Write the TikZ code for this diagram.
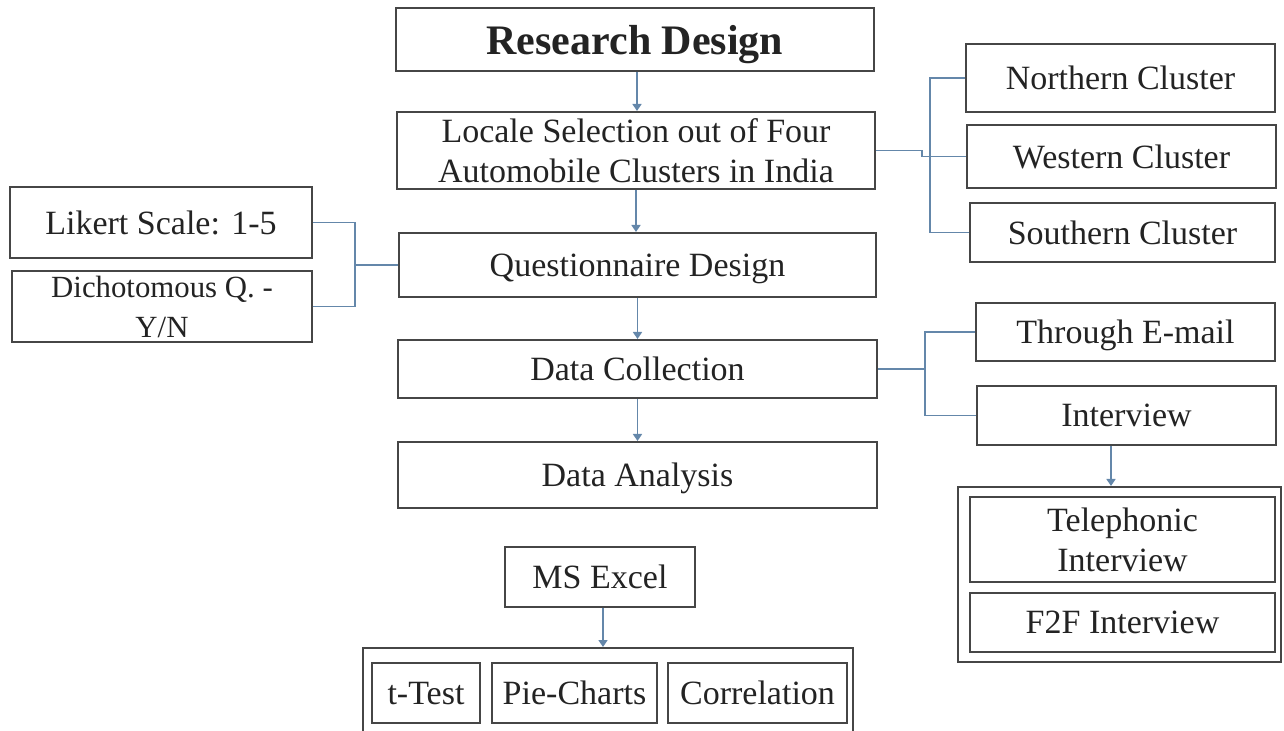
\documentclass[tikz,border=0pt]{standalone}
\usepackage{fontspec}
\setmainfont{Liberation Serif}
\usetikzlibrary{arrows.meta,calc}
\definecolor{boxline}{RGB}{70,70,70}
\definecolor{conn}{RGB}{100,135,170}
\definecolor{txt}{RGB}{35,35,35}
\begin{document}
\begin{tikzpicture}[x=0.5pt,y=-0.5pt,
  box/.style={draw=boxline, line width=1pt, rectangle, inner sep=0pt, align=center,
    text=txt, text depth=0pt, font=\fontsize{17}{20}\selectfont},
  small/.style={font=\fontsize{15.4}{20}\selectfont},
  link/.style={draw=conn, line width=0.8pt},
  arr/.style={link, -{Triangle[length=3.5pt,width=4.5pt]}}]
\useasboundingbox (0,0) rectangle (1284,731);
\clip (0,0) rectangle (1284,731);
% main column
\node[box, minimum width=239pt, minimum height=31.5pt, font=\fontsize{21}{24}\selectfont\bfseries] (rd) at (635,39.5) {Research Design};
\node[box, minimum width=239pt, minimum height=38.5pt] (loc) at (636,150.5) {Locale Selection out of Four\\Automobile Clusters in India};
\node[box, minimum width=238.5pt, minimum height=32pt] (qd) at (637.5,265) {Questionnaire Design};
\node[box, minimum width=239.5pt, minimum height=29pt] (dc) at (637.5,369) {Data Collection};
\node[box, minimum width=239.5pt, minimum height=33pt] (da) at (637.5,475) {Data Analysis};
% left
\node[box, minimum width=151pt, minimum height=35.5pt] (lik) at (161,222.5) {Likert Scale: 1-5};
\node[box, small, minimum width=150pt, minimum height=35.5pt] (dich) at (162,306.5) {Dichotomous Q. -\\Y/N};
% right clusters
\node[box, minimum width=154.5pt, minimum height=34pt] (north) at (1120.5,78) {Northern Cluster};
\node[box, minimum width=154.5pt, minimum height=31.5pt] (west) at (1121.5,156.5) {Western Cluster};
\node[box, minimum width=152.5pt, minimum height=29.5pt] (south) at (1122.5,232.5) {Southern Cluster};
% collection
\node[box, minimum width=149.5pt, minimum height=29pt] (email) at (1125.5,332) {Through E-mail};
\node[box, minimum width=149.5pt, minimum height=29.5pt] (intv) at (1126.5,415.5) {Interview};
\node[box, minimum width=161.5pt, minimum height=87.5pt] (grp) at (1119.5,574.5) {};
\node[box, minimum width=152.5pt, minimum height=42.5pt] (tel) at (1122.5,539.5) {Telephonic\\Interview};
\node[box, minimum width=152.5pt, minimum height=29.5pt] (f2f) at (1122.5,622.5) {F2F Interview};
% analysis tools
\node[box, minimum width=95pt, minimum height=30pt] (excel) at (600,577) {MS Excel};
\node[box, minimum width=245pt, minimum height=56pt] (tools) at (608,704) {};
\node[box, minimum width=54pt, minimum height=30pt] (ttest) at (426,693) {t-Test};
\node[box, minimum width=82.5pt, minimum height=30pt] (pie) at (574.5,693) {Pie-Charts};
\node[box, minimum width=89.5pt, minimum height=30pt] (corr) at (757.5,693) {Correlation};
% main arrows
\draw[arr] ($(rd.south)+(2,0)$) -- ($(rd.south |- loc.north)+(2,0)$);
\draw[arr] (loc.south) -- (loc.south |- qd.north);
\draw[arr] (qd.south) -- (qd.south |- dc.north);
\draw[arr] (dc.south) -- (dc.south |- da.north);
% left connector
\coordinate (jL) at (355,265);
\draw[link] (lik.east) -| (jL |- dich.east) -- (dich.east);
\draw[link] (qd.west) -- (jL);
% cluster connector
\coordinate (jR) at (930,156.5);
\draw[link] (north.west) -| (jR |- south.west) -- (south.west);
\draw[link] (west.west) -- (jR);
\draw[link] (loc.east) -- (922,150.5) -- (922,156.5) -- (jR);
% collection connector
\coordinate (jC) at (925,369);
\draw[link] (email.west) -| (jC |- intv.west) -- (intv.west);
\draw[link] (dc.east) -- (jC);
\draw[arr] ($(intv.south)+(-15.5,0)$) -- ($(intv.south |- grp.north)+(-15.5,0)$);
\draw[arr] ($(excel.south)+(3,0)$) -- ($(excel.south |- tools.north)+(3,0)$);
\end{tikzpicture}
\end{document}
